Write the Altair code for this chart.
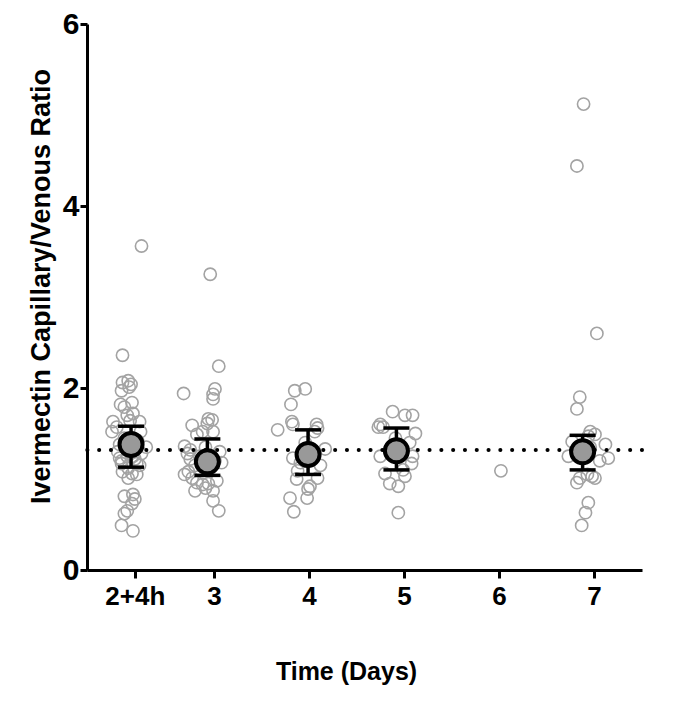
import altair as alt
import pandas as pd

# Group labels and positions (days; "2+4h" = day 2 + 4 hours)
group_labels = ["2+4h", "3", "4", "5", "6", "7"]
group_days = [2 + 4 / 24, 3, 4, 5, 6, 7]

# Individual ratios per group: horizontal jitter (days) and value
g1_jit = [0.07, -0.13, -0.13, -0.07, -0.04, -0.06, -0.14, -0.03, -0.15, -0.11, -0.02, -0.08, -0.23, -0.05, 0.05,
          -0.24, 0.06, -0.19, -0.11, 0.03, -0.16, 0.12, -0.05, -0.18, 0.07, -0.08, 0.0, -0.14, 0.05, -0.07, -0.02,
          -0.16, -0.02, -0.14, 0.02, -0.13, -0.03, 0.02, -0.07, -0.02, -0.11, 0.0, -0.03, -0.08, -0.11, -0.14, -0.02]
g1_val = [3.56, 2.36, 2.06, 2.08, 2.04, 2.01, 1.97, 1.84, 1.82, 1.79, 1.72, 1.70, 1.63, 1.64, 1.63,
          1.52, 1.52, 1.57, 1.45, 1.42, 1.38, 1.35, 1.33, 1.30, 1.28, 1.25, 1.22, 1.20, 1.15, 1.12, 1.40,
          1.23, 1.25, 1.17, 1.17, 1.08, 1.06, 1.05, 1.01, 0.83, 0.81, 0.78, 0.73, 0.65, 0.62, 0.49, 0.43]

g2_jit = [-0.04, 0.05, -0.32, 0.01, -0.01, -0.01, -0.23, -0.06, -0.02, -0.07, -0.01, -0.12, -0.18, -0.31, -0.25,
          -0.28, -0.09, 0.06, -0.15, 0.01, -0.20, -0.04, 0.08, -0.25, -0.27, -0.31, -0.23, -0.18, -0.12, -0.06,
          0.03, -0.20, -0.09, -0.01, -0.01, 0.05]
g2_val = [3.25, 2.24, 1.94, 1.99, 1.93, 1.88, 1.59, 1.66, 1.65, 1.61, 1.52, 1.52, 1.49, 1.36, 1.32,
          1.28, 1.35, 1.30, 1.25, 1.20, 1.15, 1.12, 1.18, 1.22, 1.08, 1.05, 1.01, 0.96, 0.94, 0.95,
          0.98, 0.87, 0.90, 0.87, 0.76, 0.65]

g3_jit = [-0.04, -0.15, -0.19, -0.18, -0.17, -0.33, 0.08, 0.09, 0.06, 0.17, -0.17, -0.12, -0.13, 0.09, 0.01,
          -0.01, -0.02, -0.20, -0.16, -0.04, 0.06, -0.09, 0.12]
g3_val = [1.99, 1.97, 1.82, 1.63, 1.60, 1.54, 1.60, 1.56, 1.52, 1.33, 1.23, 1.09, 1.00, 1.01, 0.92,
          0.89, 0.79, 0.79, 0.64, 1.40, 1.30, 1.18, 1.15]

g4_jit = [-0.12, 0.01, 0.09, -0.25, -0.27, -0.22, -0.25, 0.09, 0.08, -0.20, -0.01, -0.15, -0.06, 0.01, -0.06,
          -0.09, 0.06, -0.04, -0.15, 0.12]
g4_val = [1.74, 1.70, 1.70, 1.60, 1.57, 1.57, 1.25, 1.25, 1.17, 1.06, 1.10, 0.95, 0.92, 1.03, 0.63,
          1.45, 1.40, 1.35, 1.30, 1.50]

g5_jit = [0.02]
g5_val = [1.09]

g6_jit = [-0.11, -0.18, 0.03, -0.15, -0.18, -0.04, 0.01, -0.06, -0.23, 0.12, 0.15, -0.27, -0.15, -0.07, -0.02,
          0.01, -0.18, -0.06, -0.09, -0.13, -0.04, 0.06]
g6_val = [5.12, 4.44, 2.60, 1.90, 1.77, 1.52, 1.49, 1.47, 1.41, 1.38, 1.23, 1.25, 1.01, 1.05, 1.03,
          1.01, 0.96, 0.74, 0.63, 0.49, 1.35, 1.20]

# Summary (mean with error bars), groups with summaries
sum_groups = ["2+4h", "3", "4", "5", "7"]
sum_jit = [-0.04, -0.07, -0.01, -0.08, -0.12]
sum_mean = [1.38, 1.19, 1.27, 1.31, 1.30]
sum_low = [1.13, 1.04, 1.05, 1.10, 1.10]
sum_high = [1.58, 1.44, 1.54, 1.56, 1.48]

ref_value = [1.32]

# ---------------------------------------------------------------
day_of = dict(zip(group_labels, group_days))
rows = []
for lab, jits, vals in zip(group_labels,
                           [g1_jit, g2_jit, g3_jit, g4_jit, g5_jit, g6_jit],
                           [g1_val, g2_val, g3_val, g4_val, g5_val, g6_val]):
    for j, v in zip(jits, vals):
        rows.append({"group": lab, "day": day_of[lab] + j, "ratio": v})
pts = pd.DataFrame(rows)

summ = pd.DataFrame({
    "group": sum_groups,
    "day": [day_of[g] + j for g, j in zip(sum_groups, sum_jit)],
    "mean": sum_mean, "low": sum_low, "high": sum_high,
})
ref = pd.DataFrame({"ref": ref_value})

font = "Liberation Sans"
narrow = "Liberation Sans Narrow, Arial Narrow, Liberation Sans"
label_expr = "datum.value < 2.5 ? '" + group_labels[0] + "' : format(datum.value, 'd')"

x_scale = alt.Scale(domain=[1.663, 7.505], nice=False, zero=False)
y_scale = alt.Scale(domain=[0, 6], nice=False)

x_axis = alt.Axis(values=group_days, labelExpr=label_expr, title="Time (Days)", grid=False,
                  domainColor="black", domainWidth=3, tickColor="black", tickWidth=3, tickSize=8,
                  labelFont=narrow, labelFontSize=26, labelFontWeight="bold", labelColor="black",
                  labelPadding=5, titleFont=font, titleFontSize=25, titleFontWeight="bold",
                  titleColor="black", titleX=259, titleY=109, titleBaseline="alphabetic")
y_axis = alt.Axis(values=[0, 2, 4, 6], format="d", title="Ivermectin Capillary/Venous Ratio", grid=False,
                  domainColor="black", domainWidth=3, tickColor="black", tickWidth=3, tickSize=7,
                  labelFont=narrow, labelFontSize=30, labelFontWeight="bold", labelColor="black",
                  labelPadding=1, titleFont=font, titleFontSize=27, titleFontWeight="bold",
                  titleColor="black", titleX=-46, titleY=262, titleBaseline="middle")

points = alt.Chart(pts).mark_point(shape="circle", filled=False, color="#a3a3a3", strokeWidth=1.6,
                                   size=150, opacity=1).encode(
    x=alt.X("day:Q", scale=x_scale, axis=x_axis),
    y=alt.Y("ratio:Q", scale=y_scale, axis=y_axis),
)

ref_line = alt.Chart(ref).mark_rule(color="black", strokeWidth=4, strokeDash=[0.1, 11.7],
                                    strokeCap="round").encode(y=alt.Y("ref:Q", scale=y_scale))

err = alt.Chart(summ).mark_rule(color="black", strokeWidth=3.5).encode(
    x=alt.X("day:Q", scale=x_scale), y=alt.Y("low:Q", scale=y_scale), y2="high:Q")
cap_lo = alt.Chart(summ).mark_tick(color="black", orient="horizontal", size=26, thickness=3.5,
                                   opacity=1).encode(
    x=alt.X("day:Q", scale=x_scale), y=alt.Y("low:Q", scale=y_scale))
cap_hi = alt.Chart(summ).mark_tick(color="black", orient="horizontal", size=26, thickness=3.5,
                                   opacity=1).encode(
    x=alt.X("day:Q", scale=x_scale), y=alt.Y("high:Q", scale=y_scale))
means = alt.Chart(summ).mark_point(shape="circle", filled=True, fill="#999999", stroke="black",
                                   strokeWidth=4, size=530, opacity=1).encode(
    x=alt.X("day:Q", scale=x_scale), y=alt.Y("mean:Q", scale=y_scale))

chart = alt.layer(points, ref_line, err, cap_lo, cap_hi, means).properties(
    width=555, height=546,
    autosize=alt.AutoSizeParams(type="none"),
    padding={"left": 79, "top": 16, "right": 30, "bottom": 125},
).configure_view(stroke=None)

chart.save("out.html", embed_options={"renderer": "svg", "actions": False})
